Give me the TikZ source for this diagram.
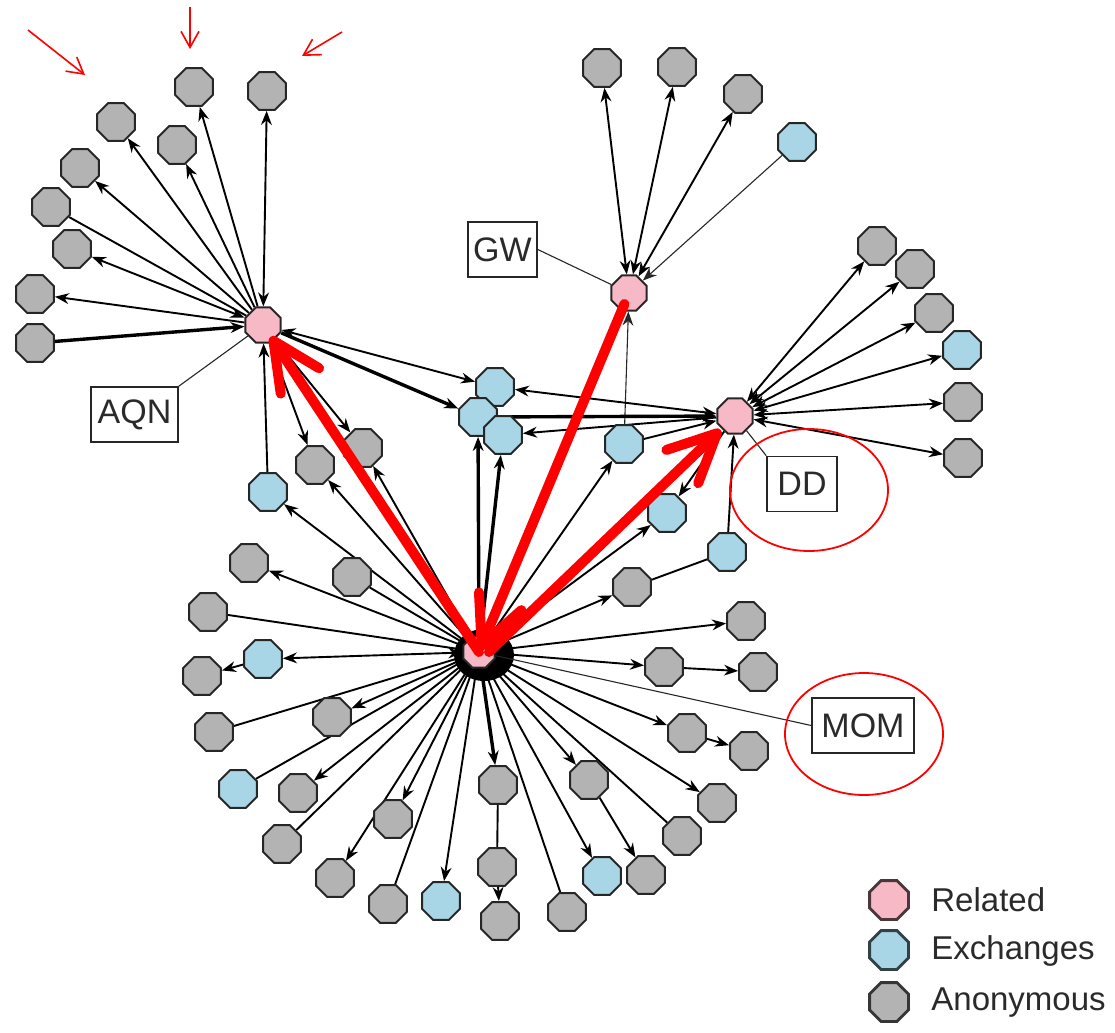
\documentclass[tikz,border=0pt]{standalone}
\usepackage{fontspec}
\setmainfont{Liberation Sans}
\usetikzlibrary{shapes.geometric,arrows.meta}
\pgfdeclarelayer{bg}
\pgfdeclarelayer{fg}
\pgfsetlayers{bg,main,fg}
\definecolor{nodegray}{HTML}{B3B3B3}
\definecolor{nodecyan}{HTML}{A9D6E6}
\definecolor{nodepink}{HTML}{F6B9C5}
\definecolor{edgecol}{HTML}{262626}
\definecolor{txt}{HTML}{2A2A2A}
\begin{document}
\begin{tikzpicture}[x=0.5pt,y=-0.5pt,
  oct/.style={regular polygon, regular polygon sides=8, minimum size=20.5pt, inner sep=0pt, draw=edgecol, line width=1pt},
  anon/.style={oct, fill=nodegray},
  exch/.style={oct, fill=nodecyan},
  rel/.style={oct, fill=nodepink, minimum size=19pt},
  lab/.style={draw=edgecol, line width=0.8pt, fill=white, text=txt, font=\fontsize{17}{17}\selectfont, minimum height=27.5pt, inner xsep=2pt, inner ysep=0pt},
  legtext/.style={anchor=west, text=txt, font=\fontsize{16.5}{16.5}\selectfont, inner sep=0pt},
  e/.style={draw=black, line width=0.95pt},
  ethick/.style={draw=black, line width=1.7pt},
  ethin/.style={draw=edgecol, line width=0.55pt},
  tipA/.tip={Stealth[length=7pt,width=5.4pt]},
  ar/.style={e, -tipA},
  ba/.style={e, tipA-tipA},
  arthick/.style={ethick, -tipA},
  arthin/.style={ethin, -tipA},
  redbig/.style={draw=red, line width=5pt, line cap=round, -{Straight Barb[length=24pt,width=23pt,round]}},
  redsmall/.style={draw=red, line width=0.8pt, -{Straight Barb[length=8pt,width=9pt]}},
  ring/.style={draw=red, line width=0.9pt, ellipse, inner sep=0pt}
]
\useasboundingbox (0,0) rectangle (1115,1033);
% hubs
\node[rel] (A) at (263,325) {};
\node[rel] (G) at (629,293) {};
\node[rel] (D) at (735,416) {};
\node[rel, minimum size=17pt] (M) at (479,652) {};
% AQN cluster
\node[anon] (a1) at (194,87) {};
\node[anon] (a2) at (267,91) {};
\node[anon] (a3) at (116,122) {};
\node[anon] (a4) at (177,145) {};
\node[anon] (a5) at (80,168) {};
\node[anon] (a6) at (51,207) {};
\node[anon] (a7) at (72,249) {};
\node[anon] (a8) at (35,294) {};
\node[anon] (a9) at (35,343) {};
% GW cluster
\node[anon] (g1) at (602,68) {};
\node[anon] (g2) at (677,67) {};
\node[anon] (g3) at (743,94) {};
\node[exch] (g4) at (797,142) {};
% DD cluster
\node[anon] (d1) at (877,246) {};
\node[anon] (d2) at (915,269) {};
\node[anon] (d3) at (934,313) {};
\node[exch] (d4) at (962,350) {};
\node[anon] (d5) at (963,402) {};
\node[anon] (d6) at (963,458) {};
% central
\node[exch] (c1) at (495,387) {};
\node[exch] (c2) at (478,417) {};
\node[exch] (c3) at (503,435) {};
\node[exch] (c4) at (624,444) {};
\node[anon] (p1) at (315,465) {};
\node[anon] (p2) at (363,448) {};
\node[exch] (c5) at (268,492) {};
% MOM cluster
\node[anon] (m1) at (249,563) {};
\node[anon] (m2) at (352,577) {};
\node[anon] (m3) at (208,612) {};
\node[exch] (m4) at (263,659) {};
\node[anon] (m5) at (202,676) {};
\node[anon] (m6) at (332,717) {};
\node[anon] (m7) at (214,732) {};
\node[exch] (m8) at (238,789) {};
\node[anon] (m9) at (298,793) {};
\node[anon] (m10) at (282,844) {};
\node[anon] (m11) at (393,819) {};
\node[anon] (m12) at (335,878) {};
\node[anon] (m13) at (388,904) {};
\node[exch] (m14) at (441,901) {};
\node[anon] (m15) at (498,785) {};
\node[anon] (m16) at (497,867) {};
\node[anon] (m17) at (500,921) {};
\node[anon] (m18) at (567,912) {};
\node[exch] (m19) at (602,876) {};
\node[anon] (m20) at (589,780) {};
\node[anon] (m21) at (646,875) {};
\node[anon] (m22) at (682,836) {};
\node[anon] (m23) at (717,803) {};
\node[anon] (m24) at (687,733) {};
\node[anon] (m25) at (749,751) {};
\node[anon] (m26) at (664,667) {};
\node[anon] (m27) at (758,672) {};
\node[anon] (m28) at (746,621) {};
\node[anon] (m29) at (632,587) {};
\node[exch] (m30) at (727,552) {};
\node[exch] (m31) at (667,513) {};
% labels
\node[lab, minimum width=43.5pt] (AQN) at (134.5,414.5) {AQN};
\node[lab, minimum width=34.5pt] (GW) at (502.5,249.5) {GW};
\node[lab, minimum width=35pt] (DD) at (802,484) {DD};
\node[lab, minimum width=51pt] (MOM) at (863,725.5) {MOM};
% legend
\node[oct, fill=nodepink, draw=black!70!nodepink, line width=1.4pt, minimum size=21pt] (lp) at (889,900) {};
\node[oct, fill=nodecyan, draw=black!70!nodecyan, line width=1.4pt, minimum size=21pt] (lc) at (889,950) {};
\node[oct, fill=nodegray, draw=black!70!nodegray, line width=1.4pt, minimum size=21pt] (lg) at (889,1002) {};
\node[legtext] (tp) at (931,900) {Related};
\node[legtext] (tc) at (931,951) {Exchanges};
\node[legtext] (tg) at (931,1003) {Anonymous};
% red rings
\node[ring, minimum width=79pt, minimum height=61pt] (ringDD) at (809,490) {};
\node[ring, minimum width=79pt, minimum height=61pt] (ringMOM) at (864,734) {};
% small red arrows
\coordinate (r1s) at (28,30); \coordinate (r1e) at (85,75);
\coordinate (r2s) at (190,7); \coordinate (r2e) at (190,49);
\coordinate (r3s) at (342,32); \coordinate (r3e) at (302,56);
\draw[redsmall] (r1s) -- (r1e);
\draw[redsmall] (r2s) -- (r2e);
\draw[redsmall] (r3s) -- (r3e);

\begin{pgfonlayer}{bg}
\fill[black] (484,655) ellipse [x radius=15pt, y radius=13pt];
% AQN cluster
\draw[ar] (A) -- (a1);
\draw[ba] (A) -- (a2);
\draw[ar] (A) -- (a3);
\draw[ar] (A) -- (a4);
\draw[ar] (A) -- (a5);
\draw[e] (a6) -- (A);
\draw[ba] (A) -- (a7);
\draw[ar] (A) -- (a8);
\draw[arthick] (a9) -- (A);
\draw[ba] (A) -- (c1);
\draw[arthick] (A) -- (c2);
\draw[ar] (A) -- (p1);
\draw[ar] (A) -- (p2);
\draw[ar] (c5) -- (A);
\draw[e] (A) -- (M);
% GW cluster
\draw[ba] (G) -- (g1);
\draw[ba] (G) -- (g2);
\draw[ba] (G) -- (g3);
\draw[arthin] (g4) -- (G);
\draw[arthin] (c4) -- (G);
% DD cluster
\draw[ba] (D) -- (d1);
\draw[ba] (D) -- (d2);
\draw[ba] (D) -- (d3);
\draw[ba] (D) -- (d4);
\draw[ba] (D) -- (d5);
\draw[ba] (D) -- (d6);
\draw[ba] (D) -- (c1);
\draw[arthick] (c2) -- (D);
\draw[ar] (D) -- (c3);
\draw[ar] (c4) -- (D);
\draw[ar] (m30) -- (D);
\draw[ar] (D) -- (m31);
% MOM cluster
\draw[arthick] (M) -- (c2);
\draw[arthick] (M) -- (c3);
\draw[ar] (M) -- (c4);
\draw[ar] (M) -- (m31);
\draw[ar] (M) -- (p1);
\draw[ar] (M) -- (p2);
\draw[ar] (M) -- (c5);
\draw[ar] (M) -- (m1);
\draw[e] (M) -- (m2);
\draw[e] (M) -- (m3);
\draw[ba] (M) -- (m4);
\draw[ar] (m4) -- (m5);
\draw[ar] (M) -- (m6);
\draw[e] (M) -- (m7);
\draw[e] (M) -- (m8);
\draw[ar] (M) -- (m9);
\draw[e] (M) -- (m10);
\draw[ar] (M) -- (m11);
\draw[ar] (M) -- (m12);
\draw[e] (M) -- (m13);
\draw[ar] (M) -- (m14);
\draw[arthick] (M) -- (m15);
\draw[e] (m15) -- (m16);
\draw[ar] (m16) -- (m17);
\draw[e] (M) -- (m18);
\draw[ar] (M) -- (m19);
\draw[ar] (M) -- (m20);
\draw[ar] (m20) -- (m21);
\draw[e] (M) -- (m22);
\draw[ar] (M) -- (m23);
\draw[ar] (M) -- (m24);
\draw[ar] (m24) -- (m25);
\draw[ar] (M) -- (m26);
\draw[ar] (m26) -- (m27);
\draw[ar] (M) -- (m28);
\draw[ar] (M) -- (m29);
\draw[e] (m29) -- (m30);
% label lines
\draw[ethin] (AQN.north east) -- (A);
\draw[ethin] (GW.east) -- (G);
\draw[ethin] (DD.north west) -- (D);
\draw[ethin] (MOM.west) -- (M);
\end{pgfonlayer}

\begin{pgfonlayer}{fg}
\draw[redbig, shorten >=7pt] (M.center) -- (A.center);
\draw[redbig, shorten <=6pt, shorten >=1pt] (G.center) -- (M.center);
\draw[redbig, shorten >=10pt] ([xshift=5pt]M.center) -- (D.center);
\end{pgfonlayer}
\end{tikzpicture}
\end{document}
